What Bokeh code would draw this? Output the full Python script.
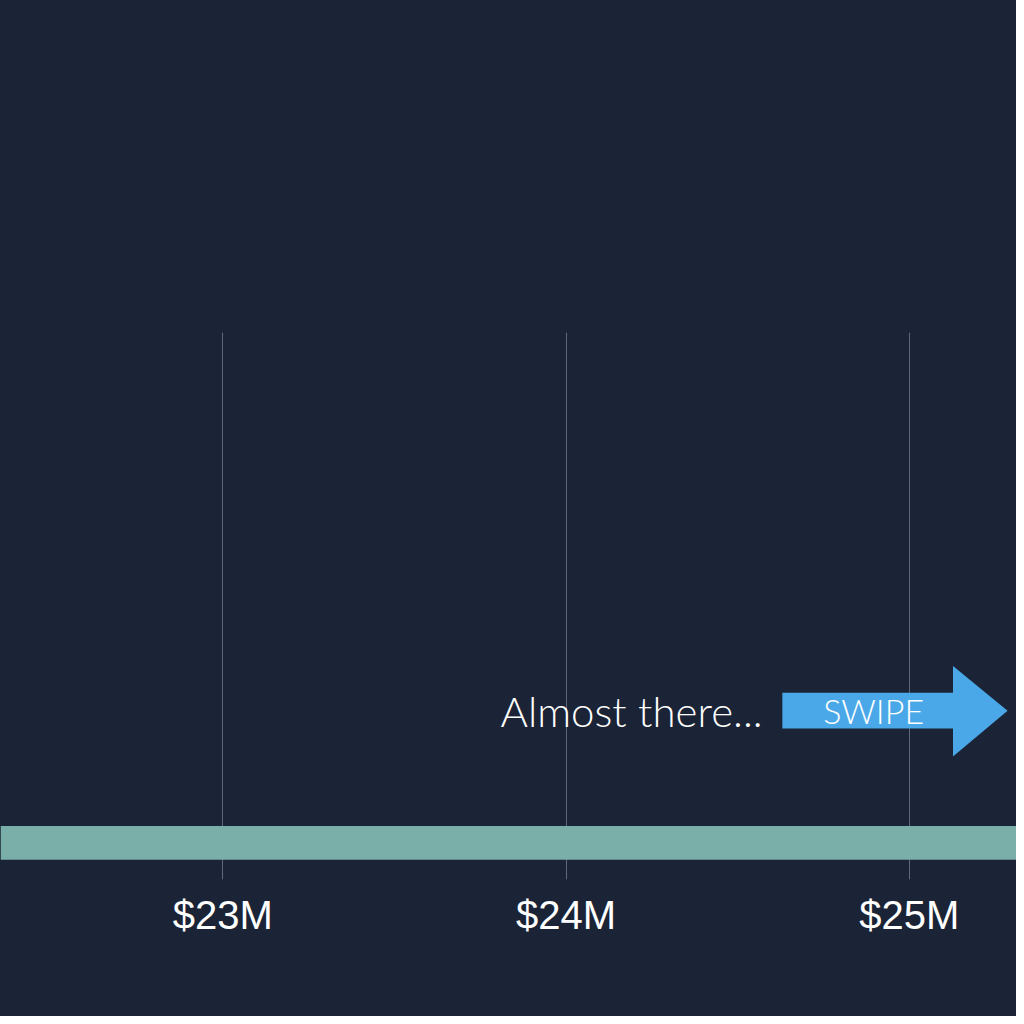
from bokeh.plotting import figure
from bokeh.models import Range1d, FixedTicker, Label, ColumnDataSource
from bokeh.embed import file_html
from bokeh.resources import INLINE

# data
categories = ["Total"]
values = [26.0]            # $M, bar extends beyond the visible range
tick_values = [23, 24, 25]
tick_labels = ["$23M", "$24M", "$25M"]
annotation_text = "Almost there..."
swipe_text = "SWIPE"

BG = "#1b2436"
BAR = "#7aaea8"
GRID = "#5e687a"
ARROW = "#4aa8e8"

PX = 346.0  # reference pixels per $1M
x0 = 23 - 224 / PX
x1 = 23 + 800 / PX

p = figure(width=1016, height=1016, output_backend="svg", toolbar_location=None,
           x_range=Range1d(x0, x1), y_range=Range1d(0, 551),
           y_axis_location=None, frame_width=1016, frame_height=547,
           min_border_top=332, min_border_bottom=137, min_border_left=0, min_border_right=0)
p.background_fill_color = BG
p.border_fill_color = BG
p.outline_line_color = None
p.styles = {"background-color": BG}

p.xaxis.ticker = FixedTicker(ticks=tick_values)
p.xaxis.major_label_overrides = {v: l for v, l in zip(tick_values, tick_labels)}
p.xaxis.axis_line_color = None
p.xaxis.major_tick_line_color = None
p.xaxis.minor_tick_line_color = None
p.xaxis.major_label_text_color = "white"
p.xaxis.major_label_text_font = "Liberation Sans"
p.xaxis.major_label_text_font_size = "40px"
p.xaxis.major_label_standoff = 7
p.xgrid.grid_line_color = GRID
p.xgrid.grid_line_width = 1
p.ygrid.grid_line_color = None

src = ColumnDataSource(dict(y=[37], right=values, left=[0], cat=categories))
p.hbar(y="y", left="left", right="right", height=34, source=src,
       fill_color=BAR, line_color=None)

# arrow
def mx(px):
    return 23 + (px - 224) / PX
ax = [mx(788), mx(960), mx(960), mx(1015), mx(960), mx(960), mx(788)]
ay = [152, 152, 124, 170, 215, 188, 188]
p.patch(ax, ay, fill_color=ARROW, line_color=None)

p.add_layout(Label(x=mx(768), y=170, text=annotation_text, text_align="right",
                   text_baseline="alphabetic", text_color="white",
                   text_font="Lato Light, Lato", text_font_size="42px"))
p.add_layout(Label(x=mx(880), y=170, text=swipe_text, text_align="center",
                   text_baseline="alphabetic", text_color="white",
                   text_font="Lato Light, Lato", text_font_size="34px"))

open("out.html", "w").write(file_html(p, INLINE))
